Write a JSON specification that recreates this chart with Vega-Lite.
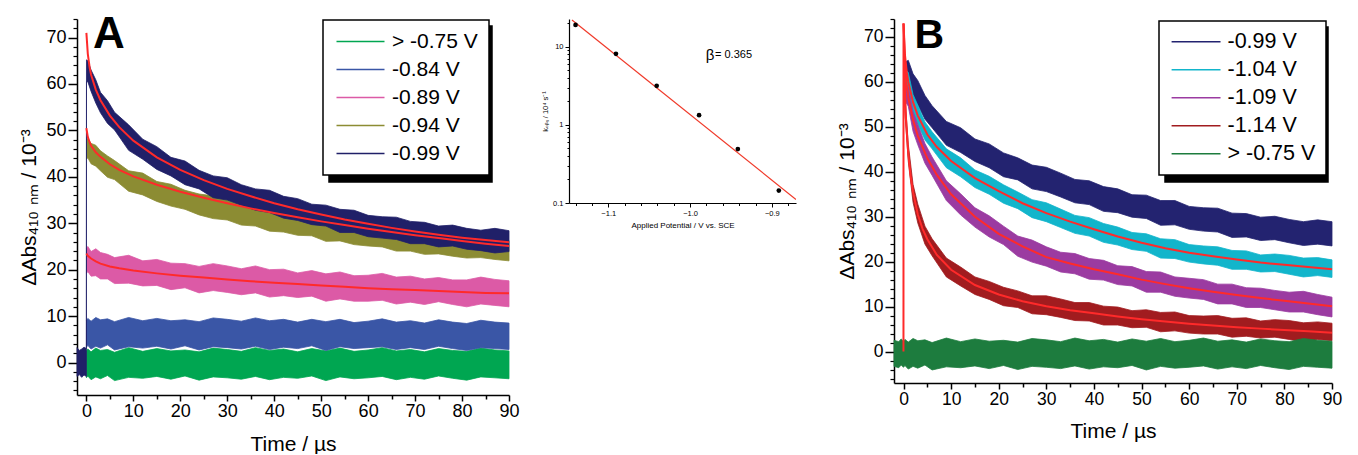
{
"$schema": "https://vega.github.io/schema/vega-lite/v6.json",
"padding": {"left": 18, "top": 13, "right": 5, "bottom": 0},
"config": {"font": "Liberation Sans", "view": {"stroke": null},
  "legend": {"strokeWidth": 1.5},
  "axis": {"domainColor": "black", "tickColor": "black", "labelColor": "black", "titleColor": "black", "grid": false, "titleFontWeight": "normal", "labelOverlap": false, "labelFlush": false}},
"datasets": {
"aBand": [
{"s":"> -0.75 V","t":0,"lo":-3.3,"hi":2.5},{"s":"> -0.75 V","t":0.3,"lo":-2.9,"hi":2.9},{"s":"> -0.75 V","t":1,"lo":-3.7,"hi":2.3},{"s":"> -0.75 V","t":2,"lo":-3.1,"hi":3.1},{"s":"> -0.75 V","t":3,"lo":-3.5,"hi":2.6},{"s":"> -0.75 V","t":4.5,"lo":-2.8,"hi":2.8},{"s":"> -0.75 V","t":6,"lo":-3.9,"hi":2.2},{"s":"> -0.75 V","t":9,"lo":-3.2,"hi":3.2},{"s":"> -0.75 V","t":12,"lo":-3.4,"hi":2.4},{"s":"> -0.75 V","t":15,"lo":-3.0,"hi":3.0},{"s":"> -0.75 V","t":18,"lo":-3.6,"hi":2.5},{"s":"> -0.75 V","t":21,"lo":-2.9,"hi":2.7},{"s":"> -0.75 V","t":24,"lo":-3.8,"hi":2.3},{"s":"> -0.75 V","t":27,"lo":-3.1,"hi":3.1},{"s":"> -0.75 V","t":30,"lo":-3.3,"hi":2.8},{"s":"> -0.75 V","t":33,"lo":-3.6,"hi":2.4},{"s":"> -0.75 V","t":36,"lo":-3.0,"hi":3.2},{"s":"> -0.75 V","t":39,"lo":-3.7,"hi":2.6},{"s":"> -0.75 V","t":42,"lo":-3.2,"hi":2.9},{"s":"> -0.75 V","t":45,"lo":-3.4,"hi":2.3},{"s":"> -0.75 V","t":48,"lo":-2.9,"hi":3.0},{"s":"> -0.75 V","t":51,"lo":-3.9,"hi":2.5},{"s":"> -0.75 V","t":54,"lo":-3.1,"hi":3.1},{"s":"> -0.75 V","t":57,"lo":-3.5,"hi":2.4},{"s":"> -0.75 V","t":60,"lo":-3.3,"hi":2.7},{"s":"> -0.75 V","t":63,"lo":-3.0,"hi":3.2},{"s":"> -0.75 V","t":66,"lo":-3.7,"hi":2.5},{"s":"> -0.75 V","t":69,"lo":-3.2,"hi":2.8},{"s":"> -0.75 V","t":72,"lo":-3.6,"hi":2.3},{"s":"> -0.75 V","t":75,"lo":-2.9,"hi":3.0},{"s":"> -0.75 V","t":78,"lo":-3.4,"hi":2.6},{"s":"> -0.75 V","t":81,"lo":-3.8,"hi":2.4},{"s":"> -0.75 V","t":84,"lo":-3.1,"hi":3.1},{"s":"> -0.75 V","t":87,"lo":-3.3,"hi":2.7},{"s":"> -0.75 V","t":90,"lo":-3.5,"hi":2.5},
{"s":"-0.84 V","t":0.02,"lo":3.3,"hi":9.1},{"s":"-0.84 V","t":0.3,"lo":3.7,"hi":9.5},{"s":"-0.84 V","t":1,"lo":2.9,"hi":8.9},{"s":"-0.84 V","t":2,"lo":3.5,"hi":9.7},{"s":"-0.84 V","t":3,"lo":3.1,"hi":9.2},{"s":"-0.84 V","t":4.5,"lo":3.8,"hi":9.4},{"s":"-0.84 V","t":6,"lo":2.7,"hi":8.8},{"s":"-0.84 V","t":9,"lo":3.4,"hi":9.7},{"s":"-0.84 V","t":12,"lo":3.1,"hi":9.0},{"s":"-0.84 V","t":15,"lo":3.5,"hi":9.5},{"s":"-0.84 V","t":18,"lo":2.9,"hi":9.0},{"s":"-0.84 V","t":21,"lo":3.6,"hi":9.2},{"s":"-0.84 V","t":24,"lo":2.7,"hi":8.8},{"s":"-0.84 V","t":27,"lo":3.4,"hi":9.6},{"s":"-0.84 V","t":30,"lo":3.2,"hi":9.3},{"s":"-0.84 V","t":33,"lo":2.9,"hi":8.9},{"s":"-0.84 V","t":36,"lo":3.5,"hi":9.6},{"s":"-0.84 V","t":39,"lo":2.8,"hi":9.0},{"s":"-0.84 V","t":42,"lo":3.3,"hi":9.3},{"s":"-0.84 V","t":45,"lo":3.0,"hi":8.7},{"s":"-0.84 V","t":48,"lo":3.6,"hi":9.3},{"s":"-0.84 V","t":51,"lo":2.6,"hi":8.8},{"s":"-0.84 V","t":54,"lo":3.4,"hi":9.3},{"s":"-0.84 V","t":57,"lo":3.0,"hi":8.6},{"s":"-0.84 V","t":60,"lo":3.2,"hi":8.9},{"s":"-0.84 V","t":63,"lo":3.4,"hi":9.4},{"s":"-0.84 V","t":66,"lo":2.8,"hi":8.7},{"s":"-0.84 V","t":69,"lo":3.2,"hi":9.0},{"s":"-0.84 V","t":72,"lo":2.8,"hi":8.5},{"s":"-0.84 V","t":75,"lo":3.5,"hi":9.2},{"s":"-0.84 V","t":78,"lo":3.0,"hi":8.7},{"s":"-0.84 V","t":81,"lo":2.6,"hi":8.4},{"s":"-0.84 V","t":84,"lo":3.2,"hi":9.1},{"s":"-0.84 V","t":87,"lo":3.0,"hi":8.7},{"s":"-0.84 V","t":90,"lo":2.8,"hi":8.5},
{"s":"-0.89 V","t":0.02,"lo":19.2,"hi":24.6},{"s":"-0.89 V","t":0.3,"lo":19.6,"hi":25.0},{"s":"-0.89 V","t":1,"lo":18.6,"hi":23.9},{"s":"-0.89 V","t":2,"lo":18.7,"hi":24.5},{"s":"-0.89 V","t":3,"lo":18.0,"hi":23.7},{"s":"-0.89 V","t":4.5,"lo":18.0,"hi":23.3},{"s":"-0.89 V","t":6,"lo":17.0,"hi":22.6},{"s":"-0.89 V","t":9,"lo":17.1,"hi":23.1},{"s":"-0.89 V","t":12,"lo":16.5,"hi":21.9},{"s":"-0.89 V","t":15,"lo":16.6,"hi":22.2},{"s":"-0.89 V","t":18,"lo":15.7,"hi":21.4},{"s":"-0.89 V","t":21,"lo":16.1,"hi":21.3},{"s":"-0.89 V","t":24,"lo":15.0,"hi":20.7},{"s":"-0.89 V","t":27,"lo":15.5,"hi":21.3},{"s":"-0.89 V","t":30,"lo":15.1,"hi":20.8},{"s":"-0.89 V","t":33,"lo":14.6,"hi":20.2},{"s":"-0.89 V","t":36,"lo":15.0,"hi":20.8},{"s":"-0.89 V","t":39,"lo":14.1,"hi":20.0},{"s":"-0.89 V","t":42,"lo":14.4,"hi":20.1},{"s":"-0.89 V","t":45,"lo":14.0,"hi":19.3},{"s":"-0.89 V","t":48,"lo":14.3,"hi":19.8},{"s":"-0.89 V","t":51,"lo":13.2,"hi":19.1},{"s":"-0.89 V","t":54,"lo":13.7,"hi":19.5},{"s":"-0.89 V","t":57,"lo":13.2,"hi":18.7},{"s":"-0.89 V","t":60,"lo":13.2,"hi":18.8},{"s":"-0.89 V","t":63,"lo":13.4,"hi":19.2},{"s":"-0.89 V","t":66,"lo":12.6,"hi":18.4},{"s":"-0.89 V","t":69,"lo":13.0,"hi":18.6},{"s":"-0.89 V","t":72,"lo":12.5,"hi":18.0},{"s":"-0.89 V","t":75,"lo":13.1,"hi":18.3},{"s":"-0.89 V","t":78,"lo":12.5,"hi":17.8},{"s":"-0.89 V","t":81,"lo":12.0,"hi":17.8},{"s":"-0.89 V","t":84,"lo":12.6,"hi":18.4},{"s":"-0.89 V","t":87,"lo":12.3,"hi":17.9},{"s":"-0.89 V","t":90,"lo":12.0,"hi":17.6},
{"s":"-0.94 V","t":0.02,"lo":43.8,"hi":48.0},{"s":"-0.94 V","t":0.3,"lo":44.1,"hi":48.3},{"s":"-0.94 V","t":1,"lo":42.8,"hi":47.2},{"s":"-0.94 V","t":2,"lo":42.3,"hi":46.8},{"s":"-0.94 V","t":3,"lo":41.3,"hi":45.6},{"s":"-0.94 V","t":4.5,"lo":39.9,"hi":44.5},{"s":"-0.94 V","t":6,"lo":39.4,"hi":43.5},{"s":"-0.94 V","t":9,"lo":36.9,"hi":41.3},{"s":"-0.94 V","t":12,"lo":36.1,"hi":40.8},{"s":"-0.94 V","t":15,"lo":34.7,"hi":39.0},{"s":"-0.94 V","t":18,"lo":33.7,"hi":38.4},{"s":"-0.94 V","t":21,"lo":33.0,"hi":37.1},{"s":"-0.94 V","t":24,"lo":31.8,"hi":36.3},{"s":"-0.94 V","t":27,"lo":31.0,"hi":35.9},{"s":"-0.94 V","t":30,"lo":30.7,"hi":35.0},{"s":"-0.94 V","t":33,"lo":29.6,"hi":34.0},{"s":"-0.94 V","t":36,"lo":29.4,"hi":33.9},{"s":"-0.94 V","t":39,"lo":28.3,"hi":32.9},{"s":"-0.94 V","t":42,"lo":28.1,"hi":32.5},{"s":"-0.94 V","t":45,"lo":27.4,"hi":31.6},{"s":"-0.94 V","t":48,"lo":27.3,"hi":31.6},{"s":"-0.94 V","t":51,"lo":26.1,"hi":30.7},{"s":"-0.94 V","t":54,"lo":26.2,"hi":30.7},{"s":"-0.94 V","t":57,"lo":25.4,"hi":29.7},{"s":"-0.94 V","t":60,"lo":25.1,"hi":29.5},{"s":"-0.94 V","t":63,"lo":24.9,"hi":29.3},{"s":"-0.94 V","t":66,"lo":24.0,"hi":28.4},{"s":"-0.94 V","t":69,"lo":24.0,"hi":28.4},{"s":"-0.94 V","t":72,"lo":23.3,"hi":27.7},{"s":"-0.94 V","t":75,"lo":23.4,"hi":27.7},{"s":"-0.94 V","t":78,"lo":22.9,"hi":27.2},{"s":"-0.94 V","t":81,"lo":22.5,"hi":26.9},{"s":"-0.94 V","t":84,"lo":22.6,"hi":27.2},{"s":"-0.94 V","t":87,"lo":22.2,"hi":26.7},{"s":"-0.94 V","t":90,"lo":21.9,"hi":26.3},
{"s":"-0.99 V","t":-2,"lo":-3.0,"hi":3.2},{"s":"-0.99 V","t":-1.5,"lo":-2.6,"hi":2.6},{"s":"-0.99 V","t":-1,"lo":-3.2,"hi":2.9},{"s":"-0.99 V","t":-0.5,"lo":-2.7,"hi":3.3},{"s":"-0.99 V","t":0,"lo":-3.0,"hi":3.0},{"s":"-0.99 V","t":0.02,"lo":60.5,"hi":65.2},{"s":"-0.99 V","t":0.3,"lo":60.5,"hi":65.0},{"s":"-0.99 V","t":1,"lo":58.4,"hi":63.0},{"s":"-0.99 V","t":2,"lo":55.9,"hi":60.9},{"s":"-0.99 V","t":3,"lo":53.8,"hi":58.2},{"s":"-0.99 V","t":4.5,"lo":51.5,"hi":56.4},{"s":"-0.99 V","t":6,"lo":50.1,"hi":53.9},{"s":"-0.99 V","t":9,"lo":45.7,"hi":51.2},{"s":"-0.99 V","t":12,"lo":43.8,"hi":48.1},{"s":"-0.99 V","t":15,"lo":41.6,"hi":46.5},{"s":"-0.99 V","t":18,"lo":40.2,"hi":44.2},{"s":"-0.99 V","t":21,"lo":38.3,"hi":43.4},{"s":"-0.99 V","t":24,"lo":37.4,"hi":41.4},{"s":"-0.99 V","t":27,"lo":35.5,"hi":40.2},{"s":"-0.99 V","t":30,"lo":35.0,"hi":39.8},{"s":"-0.99 V","t":33,"lo":33.9,"hi":38.3},{"s":"-0.99 V","t":36,"lo":32.8,"hi":37.4},{"s":"-0.99 V","t":39,"lo":32.3,"hi":37.1},{"s":"-0.99 V","t":42,"lo":31.1,"hi":35.8},{"s":"-0.99 V","t":45,"lo":30.6,"hi":35.3},{"s":"-0.99 V","t":48,"lo":29.7,"hi":34.1},{"s":"-0.99 V","t":51,"lo":29.4,"hi":33.9},{"s":"-0.99 V","t":54,"lo":28.0,"hi":33.0},{"s":"-0.99 V","t":57,"lo":28.0,"hi":32.8},{"s":"-0.99 V","t":60,"lo":27.1,"hi":31.7},{"s":"-0.99 V","t":63,"lo":26.8,"hi":31.4},{"s":"-0.99 V","t":66,"lo":26.5,"hi":31.3},{"s":"-0.99 V","t":69,"lo":25.6,"hi":30.4},{"s":"-0.99 V","t":72,"lo":25.6,"hi":30.2},{"s":"-0.99 V","t":75,"lo":24.9,"hi":29.4},{"s":"-0.99 V","t":78,"lo":25.1,"hi":29.6},{"s":"-0.99 V","t":81,"lo":24.4,"hi":28.9},{"s":"-0.99 V","t":84,"lo":24.1,"hi":28.5},{"s":"-0.99 V","t":87,"lo":23.6,"hi":28.9},{"s":"-0.99 V","t":90,"lo":23.9,"hi":28.4}
],
"aFit": [
{"s":"-0.99 V","t":0,"v":71},{"s":"-0.99 V","t":0.3,"v":66.5},{"s":"-0.99 V","t":0.7,"v":63.5},{"s":"-0.99 V","t":1,"v":62},{"s":"-0.99 V","t":2,"v":58.8},{"s":"-0.99 V","t":3,"v":56.5},{"s":"-0.99 V","t":5,"v":53.2},{"s":"-0.99 V","t":7,"v":50.7},{"s":"-0.99 V","t":10,"v":47.8},{"s":"-0.99 V","t":15,"v":44.2},{"s":"-0.99 V","t":20,"v":41.5},{"s":"-0.99 V","t":25,"v":39.3},{"s":"-0.99 V","t":30,"v":37.4},{"s":"-0.99 V","t":35,"v":35.8},{"s":"-0.99 V","t":40,"v":34.3},{"s":"-0.99 V","t":45,"v":33},{"s":"-0.99 V","t":50,"v":31.9},{"s":"-0.99 V","t":55,"v":30.8},{"s":"-0.99 V","t":60,"v":29.9},{"s":"-0.99 V","t":65,"v":29},{"s":"-0.99 V","t":70,"v":28.2},{"s":"-0.99 V","t":75,"v":27.5},{"s":"-0.99 V","t":80,"v":26.9},{"s":"-0.99 V","t":85,"v":26.4},{"s":"-0.99 V","t":90,"v":25.9},
{"s":"-0.94 V","t":0,"v":50.5},{"s":"-0.94 V","t":0.3,"v":48.6},{"s":"-0.94 V","t":0.7,"v":47.4},{"s":"-0.94 V","t":1,"v":46.7},{"s":"-0.94 V","t":2,"v":45.3},{"s":"-0.94 V","t":3,"v":44.3},{"s":"-0.94 V","t":5,"v":42.7},{"s":"-0.94 V","t":7,"v":41.5},{"s":"-0.94 V","t":10,"v":40.1},{"s":"-0.94 V","t":15,"v":38.3},{"s":"-0.94 V","t":20,"v":36.8},{"s":"-0.94 V","t":25,"v":35.5},{"s":"-0.94 V","t":30,"v":34.3},{"s":"-0.94 V","t":35,"v":33.2},{"s":"-0.94 V","t":40,"v":32.2},{"s":"-0.94 V","t":45,"v":31.3},{"s":"-0.94 V","t":50,"v":30.4},{"s":"-0.94 V","t":55,"v":29.6},{"s":"-0.94 V","t":60,"v":28.8},{"s":"-0.94 V","t":65,"v":28.1},{"s":"-0.94 V","t":70,"v":27.4},{"s":"-0.94 V","t":75,"v":26.8},{"s":"-0.94 V","t":80,"v":26.2},{"s":"-0.94 V","t":85,"v":25.6},{"s":"-0.94 V","t":90,"v":25.1},
{"s":"-0.89 V","t":0,"v":23.5},{"s":"-0.89 V","t":0.3,"v":23},{"s":"-0.89 V","t":1,"v":22.4},{"s":"-0.89 V","t":2,"v":21.8},{"s":"-0.89 V","t":3,"v":21.3},{"s":"-0.89 V","t":5,"v":20.7},{"s":"-0.89 V","t":7,"v":20.3},{"s":"-0.89 V","t":10,"v":19.8},{"s":"-0.89 V","t":15,"v":19.2},{"s":"-0.89 V","t":20,"v":18.7},{"s":"-0.89 V","t":25,"v":18.3},{"s":"-0.89 V","t":30,"v":17.9},{"s":"-0.89 V","t":35,"v":17.5},{"s":"-0.89 V","t":40,"v":17.2},{"s":"-0.89 V","t":45,"v":16.9},{"s":"-0.89 V","t":50,"v":16.6},{"s":"-0.89 V","t":55,"v":16.3},{"s":"-0.89 V","t":60,"v":16},{"s":"-0.89 V","t":65,"v":15.8},{"s":"-0.89 V","t":70,"v":15.6},{"s":"-0.89 V","t":75,"v":15.4},{"s":"-0.89 V","t":80,"v":15.2},{"s":"-0.89 V","t":85,"v":15},{"s":"-0.89 V","t":90,"v":14.9}
],
"bBand": [
{"s":"-0.99 V","t":0.3,"lo":59.4,"hi":64.4},{"s":"-0.99 V","t":1,"lo":59.7,"hi":64.8},{"s":"-0.99 V","t":2,"lo":56.5,"hi":61.8},{"s":"-0.99 V","t":3,"lo":54.9,"hi":60.3},{"s":"-0.99 V","t":4.5,"lo":51.7,"hi":57.0},{"s":"-0.99 V","t":6,"lo":49.8,"hi":54.7},{"s":"-0.99 V","t":9,"lo":45.9,"hi":51.2},{"s":"-0.99 V","t":12,"lo":44.3,"hi":49.8},{"s":"-0.99 V","t":15,"lo":42.3,"hi":47.3},{"s":"-0.99 V","t":18,"lo":40.9,"hi":46.2},{"s":"-0.99 V","t":21,"lo":38.9,"hi":44.2},{"s":"-0.99 V","t":24,"lo":38.2,"hi":43.1},{"s":"-0.99 V","t":27,"lo":36.2,"hi":41.5},{"s":"-0.99 V","t":30,"lo":35.6,"hi":41.0},{"s":"-0.99 V","t":33,"lo":34.4,"hi":39.7},{"s":"-0.99 V","t":36,"lo":33.1,"hi":38.3},{"s":"-0.99 V","t":39,"lo":32.7,"hi":38.0},{"s":"-0.99 V","t":42,"lo":31.2,"hi":36.7},{"s":"-0.99 V","t":45,"lo":30.9,"hi":36.2},{"s":"-0.99 V","t":48,"lo":29.9,"hi":34.9},{"s":"-0.99 V","t":51,"lo":29.6,"hi":34.8},{"s":"-0.99 V","t":54,"lo":28.1,"hi":33.6},{"s":"-0.99 V","t":57,"lo":28.2,"hi":33.6},{"s":"-0.99 V","t":60,"lo":27.2,"hi":32.3},{"s":"-0.99 V","t":63,"lo":26.8,"hi":32.0},{"s":"-0.99 V","t":66,"lo":26.6,"hi":31.9},{"s":"-0.99 V","t":69,"lo":25.4,"hi":30.8},{"s":"-0.99 V","t":72,"lo":25.5,"hi":30.7},{"s":"-0.99 V","t":75,"lo":24.7,"hi":29.9},{"s":"-0.99 V","t":78,"lo":24.9,"hi":30.1},{"s":"-0.99 V","t":81,"lo":24.2,"hi":29.4},{"s":"-0.99 V","t":84,"lo":23.6,"hi":28.9},{"s":"-0.99 V","t":87,"lo":23.9,"hi":29.3},{"s":"-0.99 V","t":90,"lo":23.5,"hi":28.9},
{"s":"-1.04 V","t":0.3,"lo":59.0,"hi":62.9},{"s":"-1.04 V","t":1,"lo":58.3,"hi":62.1},{"s":"-1.04 V","t":2,"lo":53.2,"hi":57.2},{"s":"-1.04 V","t":3,"lo":50.6,"hi":54.8},{"s":"-1.04 V","t":4.5,"lo":47.1,"hi":51.1},{"s":"-1.04 V","t":6,"lo":45.1,"hi":48.9},{"s":"-1.04 V","t":9,"lo":40.9,"hi":45.1},{"s":"-1.04 V","t":12,"lo":38.9,"hi":43.1},{"s":"-1.04 V","t":15,"lo":36.5,"hi":40.4},{"s":"-1.04 V","t":18,"lo":35.0,"hi":39.0},{"s":"-1.04 V","t":21,"lo":33.0,"hi":37.1},{"s":"-1.04 V","t":24,"lo":31.8,"hi":35.5},{"s":"-1.04 V","t":27,"lo":29.8,"hi":33.8},{"s":"-1.04 V","t":30,"lo":28.9,"hi":33.1},{"s":"-1.04 V","t":33,"lo":27.6,"hi":31.7},{"s":"-1.04 V","t":36,"lo":26.3,"hi":30.3},{"s":"-1.04 V","t":39,"lo":25.7,"hi":29.8},{"s":"-1.04 V","t":42,"lo":24.3,"hi":28.5},{"s":"-1.04 V","t":45,"lo":23.7,"hi":27.7},{"s":"-1.04 V","t":48,"lo":22.7,"hi":26.5},{"s":"-1.04 V","t":51,"lo":22.3,"hi":26.2},{"s":"-1.04 V","t":54,"lo":20.8,"hi":25.1},{"s":"-1.04 V","t":57,"lo":20.7,"hi":24.9},{"s":"-1.04 V","t":60,"lo":19.9,"hi":23.8},{"s":"-1.04 V","t":63,"lo":19.5,"hi":23.5},{"s":"-1.04 V","t":66,"lo":19.2,"hi":23.3},{"s":"-1.04 V","t":69,"lo":18.3,"hi":22.5},{"s":"-1.04 V","t":72,"lo":18.3,"hi":22.4},{"s":"-1.04 V","t":75,"lo":17.7,"hi":21.5},{"s":"-1.04 V","t":78,"lo":17.8,"hi":21.7},{"s":"-1.04 V","t":81,"lo":17.2,"hi":21.4},{"s":"-1.04 V","t":84,"lo":16.6,"hi":20.8},{"s":"-1.04 V","t":87,"lo":16.9,"hi":20.9},{"s":"-1.04 V","t":90,"lo":16.5,"hi":20.4},
{"s":"-1.09 V","t":0.3,"lo":55.8,"hi":60.0},{"s":"-1.09 V","t":1,"lo":54.6,"hi":58.8},{"s":"-1.09 V","t":2,"lo":49.0,"hi":53.4},{"s":"-1.09 V","t":3,"lo":46.0,"hi":50.5},{"s":"-1.09 V","t":4.5,"lo":41.9,"hi":46.3},{"s":"-1.09 V","t":6,"lo":39.2,"hi":43.3},{"s":"-1.09 V","t":9,"lo":33.6,"hi":38.0},{"s":"-1.09 V","t":12,"lo":30.4,"hi":35.1},{"s":"-1.09 V","t":15,"lo":27.7,"hi":32.0},{"s":"-1.09 V","t":18,"lo":25.5,"hi":30.2},{"s":"-1.09 V","t":21,"lo":23.8,"hi":27.9},{"s":"-1.09 V","t":24,"lo":21.2,"hi":25.7},{"s":"-1.09 V","t":27,"lo":19.9,"hi":24.8},{"s":"-1.09 V","t":30,"lo":19.0,"hi":23.3},{"s":"-1.09 V","t":33,"lo":17.7,"hi":22.1},{"s":"-1.09 V","t":36,"lo":17.3,"hi":21.8},{"s":"-1.09 V","t":39,"lo":16.1,"hi":20.7},{"s":"-1.09 V","t":42,"lo":15.9,"hi":20.3},{"s":"-1.09 V","t":45,"lo":14.9,"hi":19.1},{"s":"-1.09 V","t":48,"lo":14.6,"hi":18.9},{"s":"-1.09 V","t":51,"lo":13.2,"hi":17.8},{"s":"-1.09 V","t":54,"lo":13.2,"hi":17.7},{"s":"-1.09 V","t":57,"lo":12.3,"hi":16.6},{"s":"-1.09 V","t":60,"lo":11.9,"hi":16.3},{"s":"-1.09 V","t":63,"lo":11.6,"hi":16.0},{"s":"-1.09 V","t":66,"lo":10.6,"hi":15.0},{"s":"-1.09 V","t":69,"lo":10.6,"hi":15.0},{"s":"-1.09 V","t":72,"lo":9.8,"hi":14.2},{"s":"-1.09 V","t":75,"lo":9.8,"hi":14.1},{"s":"-1.09 V","t":78,"lo":9.3,"hi":13.6},{"s":"-1.09 V","t":81,"lo":8.8,"hi":13.2},{"s":"-1.09 V","t":84,"lo":8.8,"hi":13.4},{"s":"-1.09 V","t":87,"lo":8.2,"hi":12.7},{"s":"-1.09 V","t":90,"lo":7.7,"hi":12.1},
{"s":"-1.14 V","t":0.3,"lo":53.0,"hi":56.9},{"s":"-1.14 V","t":1,"lo":42.3,"hi":46.1},{"s":"-1.14 V","t":2,"lo":33.2,"hi":37.2},{"s":"-1.14 V","t":3,"lo":28.6,"hi":32.8},{"s":"-1.14 V","t":4.5,"lo":23.9,"hi":27.9},{"s":"-1.14 V","t":6,"lo":21.3,"hi":25.1},{"s":"-1.14 V","t":9,"lo":16.6,"hi":20.8},{"s":"-1.14 V","t":12,"lo":14.6,"hi":18.8},{"s":"-1.14 V","t":15,"lo":12.7,"hi":16.6},{"s":"-1.14 V","t":18,"lo":11.6,"hi":15.6},{"s":"-1.14 V","t":21,"lo":10.2,"hi":14.3},{"s":"-1.14 V","t":24,"lo":9.8,"hi":13.5},{"s":"-1.14 V","t":27,"lo":8.4,"hi":12.4},{"s":"-1.14 V","t":30,"lo":8.2,"hi":12.4},{"s":"-1.14 V","t":33,"lo":7.6,"hi":11.7},{"s":"-1.14 V","t":36,"lo":6.9,"hi":10.9},{"s":"-1.14 V","t":39,"lo":6.8,"hi":10.9},{"s":"-1.14 V","t":42,"lo":5.9,"hi":10.1},{"s":"-1.14 V","t":45,"lo":5.9,"hi":9.9},{"s":"-1.14 V","t":48,"lo":5.3,"hi":9.1},{"s":"-1.14 V","t":51,"lo":5.4,"hi":9.3},{"s":"-1.14 V","t":54,"lo":4.4,"hi":8.7},{"s":"-1.14 V","t":57,"lo":4.6,"hi":8.8},{"s":"-1.14 V","t":60,"lo":4.1,"hi":8.0},{"s":"-1.14 V","t":63,"lo":3.9,"hi":7.9},{"s":"-1.14 V","t":66,"lo":3.9,"hi":8.0},{"s":"-1.14 V","t":69,"lo":3.2,"hi":7.4},{"s":"-1.14 V","t":72,"lo":3.4,"hi":7.5},{"s":"-1.14 V","t":75,"lo":3.0,"hi":6.8},{"s":"-1.14 V","t":78,"lo":3.2,"hi":7.1},{"s":"-1.14 V","t":81,"lo":2.7,"hi":6.9},{"s":"-1.14 V","t":84,"lo":2.2,"hi":6.4},{"s":"-1.14 V","t":87,"lo":2.7,"hi":6.6},{"s":"-1.14 V","t":90,"lo":2.4,"hi":6.3},
{"s":"> -0.75 V","t":-2,"lo":-3.3,"hi":2.5},{"s":"> -0.75 V","t":-1,"lo":-3.6,"hi":2.2},{"s":"> -0.75 V","t":-0.5,"lo":-3.0,"hi":2.8},{"s":"> -0.75 V","t":0,"lo":-3.5,"hi":2.3},{"s":"> -0.75 V","t":0.3,"lo":-3.1,"hi":2.7},{"s":"> -0.75 V","t":1,"lo":-3.9,"hi":2.1},{"s":"> -0.75 V","t":2,"lo":-3.3,"hi":2.9},{"s":"> -0.75 V","t":3,"lo":-3.7,"hi":2.4},{"s":"> -0.75 V","t":4.5,"lo":-3.0,"hi":2.6},{"s":"> -0.75 V","t":6,"lo":-4.1,"hi":2.0},{"s":"> -0.75 V","t":9,"lo":-3.4,"hi":3.0},{"s":"> -0.75 V","t":12,"lo":-3.6,"hi":2.2},{"s":"> -0.75 V","t":15,"lo":-3.2,"hi":2.8},{"s":"> -0.75 V","t":18,"lo":-3.8,"hi":2.3},{"s":"> -0.75 V","t":21,"lo":-3.1,"hi":2.5},{"s":"> -0.75 V","t":24,"lo":-4.0,"hi":2.1},{"s":"> -0.75 V","t":27,"lo":-3.3,"hi":2.9},{"s":"> -0.75 V","t":30,"lo":-3.5,"hi":2.6},{"s":"> -0.75 V","t":33,"lo":-3.8,"hi":2.2},{"s":"> -0.75 V","t":36,"lo":-3.2,"hi":3.0},{"s":"> -0.75 V","t":39,"lo":-3.9,"hi":2.4},{"s":"> -0.75 V","t":42,"lo":-3.4,"hi":2.7},{"s":"> -0.75 V","t":45,"lo":-3.6,"hi":2.1},{"s":"> -0.75 V","t":48,"lo":-3.1,"hi":2.8},{"s":"> -0.75 V","t":51,"lo":-4.1,"hi":2.3},{"s":"> -0.75 V","t":54,"lo":-3.3,"hi":2.9},{"s":"> -0.75 V","t":57,"lo":-3.7,"hi":2.2},{"s":"> -0.75 V","t":60,"lo":-3.5,"hi":2.5},{"s":"> -0.75 V","t":63,"lo":-3.2,"hi":3.0},{"s":"> -0.75 V","t":66,"lo":-3.9,"hi":2.3},{"s":"> -0.75 V","t":69,"lo":-3.4,"hi":2.6},{"s":"> -0.75 V","t":72,"lo":-3.8,"hi":2.1},{"s":"> -0.75 V","t":75,"lo":-3.1,"hi":2.8},{"s":"> -0.75 V","t":78,"lo":-3.6,"hi":2.4},{"s":"> -0.75 V","t":81,"lo":-4.0,"hi":2.2},{"s":"> -0.75 V","t":84,"lo":-3.3,"hi":2.9},{"s":"> -0.75 V","t":87,"lo":-3.5,"hi":2.5},{"s":"> -0.75 V","t":90,"lo":-3.7,"hi":2.3}
],
"bFit": [
{"s":"-1.04 V","t":0,"v":73},{"s":"-1.04 V","t":0.3,"v":66},{"s":"-1.04 V","t":0.7,"v":62},{"s":"-1.04 V","t":1,"v":60},{"s":"-1.04 V","t":2,"v":55.5},{"s":"-1.04 V","t":3,"v":52.5},{"s":"-1.04 V","t":5,"v":48.3},{"s":"-1.04 V","t":7,"v":45.5},{"s":"-1.04 V","t":10,"v":42.4},{"s":"-1.04 V","t":15,"v":38.6},{"s":"-1.04 V","t":20,"v":35.7},{"s":"-1.04 V","t":25,"v":33},{"s":"-1.04 V","t":30,"v":30.8},{"s":"-1.04 V","t":35,"v":28.9},{"s":"-1.04 V","t":40,"v":27.2},{"s":"-1.04 V","t":45,"v":25.6},{"s":"-1.04 V","t":50,"v":24.2},{"s":"-1.04 V","t":55,"v":23},{"s":"-1.04 V","t":60,"v":22},{"s":"-1.04 V","t":65,"v":21.2},{"s":"-1.04 V","t":70,"v":20.5},{"s":"-1.04 V","t":75,"v":19.8},{"s":"-1.04 V","t":80,"v":19.3},{"s":"-1.04 V","t":85,"v":18.8},{"s":"-1.04 V","t":90,"v":18.3},
{"s":"-1.09 V","t":0,"v":73},{"s":"-1.09 V","t":0.3,"v":64},{"s":"-1.09 V","t":0.7,"v":59},{"s":"-1.09 V","t":1,"v":56.5},{"s":"-1.09 V","t":2,"v":51.5},{"s":"-1.09 V","t":3,"v":48},{"s":"-1.09 V","t":5,"v":43},{"s":"-1.09 V","t":7,"v":39.3},{"s":"-1.09 V","t":10,"v":35},{"s":"-1.09 V","t":15,"v":30},{"s":"-1.09 V","t":20,"v":26.2},{"s":"-1.09 V","t":25,"v":23.4},{"s":"-1.09 V","t":30,"v":21},{"s":"-1.09 V","t":35,"v":19.6},{"s":"-1.09 V","t":40,"v":18.3},{"s":"-1.09 V","t":45,"v":17.2},{"s":"-1.09 V","t":50,"v":16},{"s":"-1.09 V","t":55,"v":15},{"s":"-1.09 V","t":60,"v":14.1},{"s":"-1.09 V","t":65,"v":13.3},{"s":"-1.09 V","t":70,"v":12.6},{"s":"-1.09 V","t":75,"v":11.9},{"s":"-1.09 V","t":80,"v":11.3},{"s":"-1.09 V","t":85,"v":10.7},{"s":"-1.09 V","t":90,"v":10.1},
{"s":"-1.14 V","t":-0.01,"v":0},{"s":"-1.14 V","t":0,"v":73},{"s":"-1.14 V","t":0.2,"v":62},{"s":"-1.14 V","t":0.5,"v":52},{"s":"-1.14 V","t":1,"v":44},{"s":"-1.14 V","t":1.5,"v":39},{"s":"-1.14 V","t":2,"v":35.5},{"s":"-1.14 V","t":3,"v":30.5},{"s":"-1.14 V","t":4,"v":27.3},{"s":"-1.14 V","t":5,"v":25},{"s":"-1.14 V","t":7,"v":21.5},{"s":"-1.14 V","t":10,"v":18.2},{"s":"-1.14 V","t":15,"v":14.8},{"s":"-1.14 V","t":20,"v":12.7},{"s":"-1.14 V","t":25,"v":11.2},{"s":"-1.14 V","t":30,"v":10.1},{"s":"-1.14 V","t":35,"v":9.2},{"s":"-1.14 V","t":40,"v":8.5},{"s":"-1.14 V","t":45,"v":7.8},{"s":"-1.14 V","t":50,"v":7.2},{"s":"-1.14 V","t":55,"v":6.7},{"s":"-1.14 V","t":60,"v":6.2},{"s":"-1.14 V","t":65,"v":5.8},{"s":"-1.14 V","t":70,"v":5.4},{"s":"-1.14 V","t":75,"v":5.1},{"s":"-1.14 V","t":80,"v":4.8},{"s":"-1.14 V","t":85,"v":4.5},{"s":"-1.14 V","t":90,"v":4.2}
],
"insetPts": [{"E":-1.14,"k":19},{"E":-1.0906,"k":8.1},{"E":-1.0408,"k":3.16},{"E":-0.989,"k":1.33},{"E":-0.9416,"k":0.49},{"E":-0.8915,"k":0.144}],
"insetFit": [{"E":-1.1443,"k":22.0},{"E":-0.8705,"k":0.111}],
"legA": [{"k":"a1"},{"k":"a2"},{"k":"a3"},{"k":"a4"},{"k":"a5"}],
"legB": [{"k":"b1"},{"k":"b2"},{"k":"b3"},{"k":"b4"},{"k":"b5"}]
},
"bounds": "flush",
"spacing": 60,
"resolve": {"scale": {"color": "independent", "fill": "independent", "stroke": "independent", "size": "independent"}},
"hconcat": [
{
"width": 432, "height": 376,
"resolve": {"axis": {"x": "independent", "y": "independent"}},
"layer": [
{"data": {"name": "legA"}, "mark": {"type": "point", "opacity": 0},
 "encoding": {"size": {"field": "k", "type": "nominal", "scale": {"domain": ["a1", "a2", "a3", "a4", "a5"], "range": [484, 484, 484, 484, 484]},
  "legend": {"orient": "none", "legendX": 252, "legendY": 7, "title": null, "symbolOpacity": 0, "symbolStrokeWidth": 0, "labelExpr": "''", "labelFontSize": 21, "labelOffset": 119, "rowPadding": 6, "padding": 11, "strokeColor": "black", "fillColor": "black", "labelColor": "black"}}}},
{"data": {"name": "aBand"}, "mark": {"type": "area", "strokeWidth": 0.8},
 "encoding": {
  "x": {"field": "t", "type": "quantitative", "scale": {"domain": [-2, 90], "nice": false, "zero": false},
   "axis": {"orient": "bottom", "values": [0,10,20,30,40,50,60,70,80,90], "tickSize": 6, "labelFontSize": 18, "labelPadding": 1, "title": "Time / µs", "titleFontSize": 21, "titlePadding": 13, "domainWidth": 1.5, "tickWidth": 1.5}},
  "y": {"field": "lo", "type": "quantitative", "scale": {"domain": [-7, 74], "nice": false, "zero": false},
   "axis": {"orient": "left", "values": [0,10,20,30,40,50,60,70], "tickSize": 9, "labelFontSize": 18, "labelPadding": 2, "title": "ΔAbs₄₁₀ ₙₘ / 10⁻³", "titleFontSize": 21, "titlePadding": 6, "domainWidth": 1.5, "tickWidth": 1.5}},
  "y2": {"field": "hi"},
  "fill": {"field": "s", "type": "nominal", "scale": {"domain": ["> -0.75 V", "-0.84 V", "-0.89 V", "-0.94 V", "-0.99 V"], "range": ["#00a651", "#3a56a6", "#dc5aa6", "#8c8c33", "#202068"]},
   "legend": {"orient": "none", "legendX": 246, "legendY": 1, "title": null, "symbolType": "M-1,0H5", "symbolSize": 256, "symbolStrokeWidth": 1.5, "labelFontSize": 21, "labelOffset": 37, "rowPadding": 6, "padding": 11, "strokeColor": "black", "fillColor": "white", "labelLimit": 300, "zindex": 2}},
  "stroke": {"field": "s", "type": "nominal", "scale": {"domain": ["> -0.75 V", "-0.84 V", "-0.89 V", "-0.94 V", "-0.99 V"], "range": ["#00a651", "#3a56a6", "#dc5aa6", "#8c8c33", "#202068"]},
   "legend": {"orient": "none", "legendX": 246, "legendY": 1, "title": null, "symbolType": "M-1,0H5", "symbolSize": 256, "symbolStrokeWidth": 1.5, "labelFontSize": 21, "labelOffset": 37, "rowPadding": 6, "padding": 11, "strokeColor": "black", "fillColor": "white", "labelLimit": 300, "zindex": 2}}
 }},
{"data": {"name": "aFit"}, "mark": {"type": "line", "color": "#ff2a2a", "strokeWidth": 2},
 "encoding": {
  "x": {"field": "t", "type": "quantitative", "axis": {"orient": "bottom", "values": [5,15,25,35,45,55,65,75,85], "labels": false, "domain": false, "title": null, "tickSize": 4, "tickWidth": 1.5}},
  "y": {"field": "v", "type": "quantitative", "axis": {"orient": "left", "values": [-6,-4,-2,2,4,6,8,12,14,16,18,22,24,26,28,32,34,36,38,42,44,46,48,52,54,56,58,62,64,66,68,72,74], "labels": false, "domain": false, "title": null, "tickSize": 4, "tickWidth": 1.2}},
  "detail": {"field": "s"}}},
{"data": {"values": [{}]}, "mark": {"type": "text", "text": "A", "fontSize": 44, "fontWeight": "bold", "align": "center", "baseline": "middle"},
 "encoding": {"x": {"datum": 4.8, "type": "quantitative", "axis": null}, "y": {"datum": 70.5, "type": "quantitative", "axis": null}}}
]
},
{
"bounds": "flush",
"spacing": 98,
"resolve": {"scale": {"color": "independent", "fill": "independent", "stroke": "independent", "size": "independent"}},
"hconcat": [
{
"width": 227, "height": 184,
"resolve": {"axis": {"x": "independent", "y": "independent"}},
"layer": [
{"data": {"name": "insetFit"}, "mark": {"type": "line", "color": "#f03a2a", "strokeWidth": 1.2, "clip": true},
 "encoding": {
  "x": {"field": "E", "type": "quantitative", "scale": {"domain": [-1.148, -0.8705], "nice": false, "zero": false},
   "axis": {"orient": "bottom", "values": [-1.1, -1.0, -0.9], "format": ".1f", "tickSize": 4, "labelFontSize": 7.5, "labelPadding": 2, "title": "Applied Potential / V vs. SCE", "titleFontSize": 8, "titlePadding": 5, "domainWidth": 1.2, "tickWidth": 1}},
  "y": {"field": "k", "type": "quantitative", "scale": {"type": "log", "domain": [0.1, 22.6], "nice": false},
   "axis": {"orient": "left", "values": [0.1, 1, 10], "labelExpr": "datum.value === 0.1 ? '0.1' : datum.value === 1 ? '1' : '10'", "tickSize": 4, "labelFontSize": 7.5, "labelPadding": 2, "title": "kₒᵦₛ / 10⁴ s⁻¹", "titleFontSize": 7.5, "titlePadding": 3, "domainWidth": 1.2, "tickWidth": 1}}
 }},
{"data": {"name": "insetPts"}, "mark": {"type": "point", "filled": true, "color": "black", "size": 22, "opacity": 1},
 "encoding": {
  "x": {"field": "E", "type": "quantitative", "axis": {"orient": "bottom", "values": [-1.14,-1.12,-1.08,-1.06,-1.04,-1.02,-0.98,-0.96,-0.94,-0.92,-0.88], "labels": false, "domain": false, "title": null, "tickSize": 2.5, "tickWidth": 1}},
  "y": {"field": "k", "type": "quantitative", "axis": {"orient": "left", "values": [0.2,0.3,0.4,0.5,0.6,0.7,0.8,0.9,2,3,4,5,6,7,8,9,20], "labels": false, "domain": false, "title": null, "tickSize": 2, "tickWidth": 1}}}},
{"data": {"values": [{}]}, "mark": {"type": "text", "text": "β", "fontSize": 15, "align": "center", "baseline": "middle"},
 "encoding": {"x": {"datum": -0.9755, "type": "quantitative", "axis": null}, "y": {"datum": 7.9, "type": "quantitative", "axis": null}}},
{"data": {"values": [{}]}, "mark": {"type": "text", "text": "= 0.365", "fontSize": 11, "align": "left", "baseline": "middle"},
 "encoding": {"x": {"datum": -0.9695, "type": "quantitative", "axis": null}, "y": {"datum": 7.9, "type": "quantitative", "axis": null}}}
]
},
{
"width": 438, "height": 364,
"resolve": {"axis": {"x": "independent", "y": "independent"}},
"layer": [
{"data": {"name": "legB"}, "mark": {"type": "point", "opacity": 0},
 "encoding": {"size": {"field": "k", "type": "nominal", "scale": {"domain": ["b1", "b2", "b3", "b4", "b5"], "range": [506, 506, 506, 506, 506]},
  "legend": {"orient": "none", "legendX": 271, "legendY": 8, "title": null, "symbolOpacity": 0, "symbolStrokeWidth": 0, "labelExpr": "''", "labelFontSize": 21.5, "labelOffset": 120, "rowPadding": 5, "padding": 10, "strokeColor": "black", "fillColor": "black", "labelColor": "black"}}}},
{"data": {"name": "bBand"}, "mark": {"type": "area", "strokeWidth": 0.8},
 "encoding": {
  "x": {"field": "t", "type": "quantitative", "scale": {"domain": [-2, 90], "nice": false, "zero": false},
   "axis": {"orient": "bottom", "values": [0,10,20,30,40,50,60,70,80,90], "tickSize": 6, "labelFontSize": 17.5, "labelPadding": 1, "title": "Time / µs", "titleFontSize": 21, "titlePadding": 13, "domainWidth": 1.5, "tickWidth": 1.5}},
  "y": {"field": "lo", "type": "quantitative", "scale": {"domain": [-7, 74], "nice": false, "zero": false},
   "axis": {"orient": "left", "values": [0,10,20,30,40,50,60,70], "tickSize": 9, "labelFontSize": 17.5, "labelPadding": 2, "title": "ΔAbs₄₁₀ ₙₘ / 10⁻³", "titleFontSize": 21, "titlePadding": 6, "domainWidth": 1.5, "tickWidth": 1.5}},
  "y2": {"field": "hi"},
  "fill": {"field": "s", "type": "nominal", "scale": {"domain": ["-0.99 V", "-1.04 V", "-1.09 V", "-1.14 V", "> -0.75 V"], "range": ["#232370", "#12b5cb", "#9b3ba1", "#a11c1f", "#1d7c3e"]},
   "legend": {"orient": "none", "legendX": 265, "legendY": 2, "title": null, "symbolType": "M-1,0H5", "symbolSize": 266, "symbolStrokeWidth": 1.5, "labelFontSize": 21.5, "labelOffset": 37, "rowPadding": 5, "padding": 10, "strokeColor": "black", "fillColor": "white", "labelLimit": 300, "zindex": 2}},
  "stroke": {"field": "s", "type": "nominal", "scale": {"domain": ["-0.99 V", "-1.04 V", "-1.09 V", "-1.14 V", "> -0.75 V"], "range": ["#232370", "#12b5cb", "#9b3ba1", "#a11c1f", "#1d7c3e"]},
   "legend": {"orient": "none", "legendX": 265, "legendY": 2, "title": null, "symbolType": "M-1,0H5", "symbolSize": 266, "symbolStrokeWidth": 1.5, "labelFontSize": 21.5, "labelOffset": 37, "rowPadding": 5, "padding": 10, "strokeColor": "black", "fillColor": "white", "labelLimit": 300, "zindex": 2}}
 }},
{"data": {"name": "bFit"}, "mark": {"type": "line", "color": "#ff2a2a", "strokeWidth": 2},
 "encoding": {
  "x": {"field": "t", "type": "quantitative", "axis": {"orient": "bottom", "values": [5,15,25,35,45,55,65,75,85], "labels": false, "domain": false, "title": null, "tickSize": 4, "tickWidth": 1.5}},
  "y": {"field": "v", "type": "quantitative", "axis": {"orient": "left", "values": [-6,-4,-2,2,4,6,8,12,14,16,18,22,24,26,28,32,34,36,38,42,44,46,48,52,54,56,58,62,64,66,68,72,74], "labels": false, "domain": false, "title": null, "tickSize": 4, "tickWidth": 1.2}},
  "detail": {"field": "s"}}},
{"data": {"values": [{}]}, "mark": {"type": "text", "text": "B", "fontSize": 41, "fontWeight": "bold", "align": "center", "baseline": "middle"},
 "encoding": {"x": {"datum": 5.4, "type": "quantitative", "axis": null}, "y": {"datum": 70.3, "type": "quantitative", "axis": null}}}
]
}
]
}
]
}
